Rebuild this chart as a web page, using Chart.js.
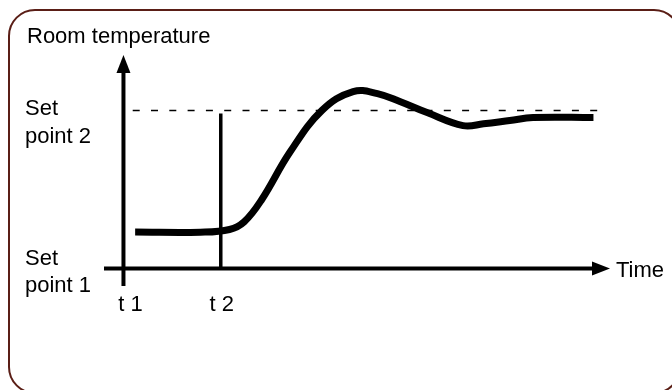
<!DOCTYPE html>
<html>
<head>
<meta charset="utf-8">
<script src="https://cdn.jsdelivr.net/npm/chart.js@4/dist/chart.umd.min.js"></script>
<style>
  body { margin: 0; background: #fff; }
</style>
</head>
<body>
<canvas id="myChart" width="672" height="390"></canvas>
<script>
// curva de temperatura (tiempo, temperatura) - set point 1 = 0, set point 2 = 10
let tiempo = [1.2, 7.9, 10.9, 12.4, 14.2, 17.1, 20.4, 23.6, 26.1, 28.4, 31.2, 34.9, 37.0, 39.7, 42.1, 48.3];
let temperatura = [2.31, 2.3, 2.47, 2.95, 4.35, 7.35, 10.0, 11.19, 11.06, 10.56, 9.86, 9.04, 9.15, 9.36, 9.55, 9.55];

let setPoints = [0, 10];
let setLabels = [['Set', 'point 1'], ['Set', 'point 2']];
let tiempos = [0, 10];
let tLabels = ['t 1', 't 2'];

const fuente = '22px "Liberation Sans", Arial, sans-serif';

let puntos = tiempo.map((t, i) => ({ x: t, y: temperatura[i] }));

const dibujos = {
    id: 'dibujos',
    afterDraw(chart) {
        const ctx = chart.ctx;
        const x = chart.scales.x;
        const y = chart.scales.y;
        const x0 = x.getPixelForValue(0);
        const y0 = y.getPixelForValue(0);
        ctx.save();

        // borde redondeado
        ctx.strokeStyle = '#5a1e16';
        ctx.lineWidth = 2;
        ctx.beginPath();
        ctx.roundRect(9, 10, 671, 383, 26);
        ctx.stroke();

        // flechas
        ctx.fillStyle = '#000';
        ctx.beginPath();
        ctx.moveTo(x0, y.top);
        ctx.lineTo(x0 - 7, y.top + 18);
        ctx.lineTo(x0 + 7, y.top + 18);
        ctx.closePath();
        ctx.fill();
        ctx.beginPath();
        ctx.moveTo(x.right, y0);
        ctx.lineTo(x.right - 18, y0 - 7);
        ctx.lineTo(x.right - 18, y0 + 7);
        ctx.closePath();
        ctx.fill();

        // textos
        ctx.font = fuente;
        ctx.textBaseline = 'alphabetic';
        ctx.textAlign = 'left';
        ctx.fillText('Room temperature', 27, 43);
        ctx.fillText('Time', x.right + 6, y0 + 8);
        let desp = [[-3.5, 23], [4.5, 32.5]];
        setPoints.forEach((v, i) => {
            const py = y.getPixelForValue(v);
            ctx.fillText(setLabels[i][0], 25, py + desp[i][0]);
            ctx.fillText(setLabels[i][1], 25, py + desp[i][1]);
        });
        ctx.textAlign = 'center';
        tiempos.forEach((t, i) => {
            ctx.fillText(tLabels[i], x.getPixelForValue(t) + 7 - i * 6, 311);
        });
        ctx.restore();
    }
};

const ctx = document.getElementById('myChart').getContext('2d');
const myChart = new Chart(ctx, {
    type: 'line',
    data: {
        datasets: [
            {
                label: 'temperatura',
                data: puntos,
                borderColor: '#000',
                borderWidth: 7,
                borderCapStyle: 'butt',
                tension: 0.4,
                pointRadius: 0,
                clip: false
            },
            {
                label: 'set point 2',
                data: [{ x: 0.95, y: 10 }, { x: 49.3, y: 10 }],
                borderColor: '#000',
                borderWidth: 1.5,
                borderDash: [7, 11.3],
                pointRadius: 0,
                clip: false
            },
            {
                label: 't2',
                data: [{ x: 10, y: 9.8 }, { x: 10, y: 0 }],
                borderColor: '#000',
                borderWidth: 3.5,
                pointRadius: 0,
                clip: false
            },
            {
                label: 'eje x',
                data: [{ x: -2, y: 0 }, { x: 48.5, y: 0 }],
                borderColor: '#000',
                borderWidth: 4,
                pointRadius: 0,
                clip: false
            },
            {
                label: 'eje y',
                data: [{ x: 0, y: -1.1 }, { x: 0, y: 12.5 }],
                borderColor: '#000',
                borderWidth: 4,
                pointRadius: 0,
                clip: false
            }
        ]
    },
    options: {
        responsive: false,
        animation: false,
        layout: { padding: { left: 104, right: 62, top: 55, bottom: 104 } },
        plugins: { legend: { display: false }, tooltip: { enabled: false } },
        scales: {
            x: { type: 'linear', min: -2, max: 50, display: false },
            y: { min: -1.1, max: 13.5, display: false }
        }
    },
    plugins: [dibujos]
});
</script>
</body>
</html>
